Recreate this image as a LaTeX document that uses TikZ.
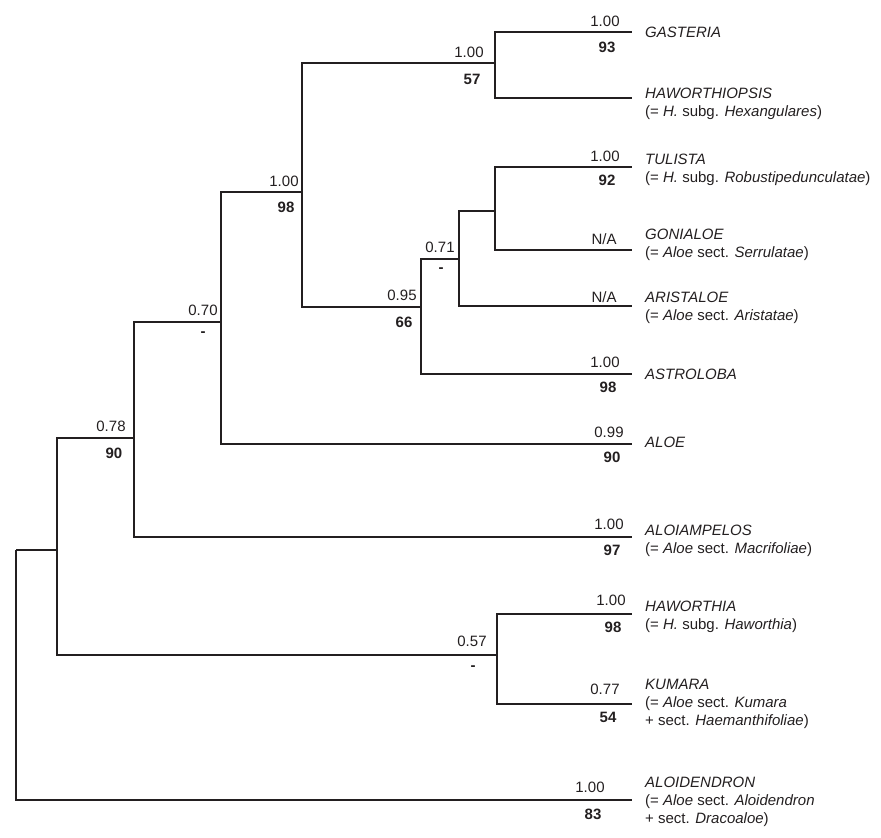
\documentclass[tikz,border=0pt]{standalone}
\usepackage{fontspec}
\setmainfont{Liberation Sans}
\usepackage{xcolor}

\definecolor{ink}{HTML}{231F20}

\begin{document}
\begin{tikzpicture}[x=1pt,y=-1pt,
    branch/.style={draw=ink,line width=1.6pt},
    pp/.style={inner sep=0pt,text=ink,font=\fontsize{15}{18}\selectfont},
    bs/.style={inner sep=0pt,text=ink,font=\fontsize{15}{18}\selectfont\bfseries},
    taxon/.style={anchor=west,inner sep=0pt,align=left,text=ink,font=\fontsize{15}{18}\selectfont}]
                \useasboundingbox (0,0) rectangle (881,838);
                % internal nodes
                \coordinate (root) at (16,550);
                \coordinate (n1) at (57,550);
                \coordinate (n2) at (134,438);
                \coordinate (n3) at (221,322);
                \coordinate (n4) at (302,192);
                \coordinate (n5) at (495,63);
                \coordinate (n6) at (421,307);
                \coordinate (n7) at (459,259);
                \coordinate (n8) at (495,211);
                \coordinate (n9) at (497,655);
                % tips
                \coordinate (gas) at (632,32);
                \coordinate (hop) at (632,98);
                \coordinate (tul) at (632,167);
                \coordinate (gon) at (632,250);
                \coordinate (ari) at (632,306);
                \coordinate (ast) at (632,374);
                \coordinate (aloe) at (632,444);
                \coordinate (amp) at (632,537);
                \coordinate (haw) at (632,614);
                \coordinate (kum) at (632,704);
                \coordinate (den) at (632,800);
                % branches
                \foreach \a/\b in {root/n1,root/den,n1/n2,n1/n9,n2/n3,n2/amp,n3/n4,n3/aloe,
                    n4/n5,n4/n6,n5/gas,n5/hop,n6/n7,n6/ast,n7/n8,n7/ari,n8/tul,n8/gon,n9/haw,n9/kum}
                    \draw[branch] (\a) |- (\b);
                % support values on internal nodes
                \node[pp] (pp-n5) at ([xshift=-26pt,yshift=11pt]n5) {1.00};
                \node[bs] (bs-n5) at ([xshift=-23pt,yshift=-16pt]n5) {57};
                \node[pp] (pp-n4) at ([xshift=-18pt,yshift=11pt]n4) {1.00};
                \node[bs] (bs-n4) at ([xshift=-16pt,yshift=-15pt]n4) {98};
                \node[pp] (pp-n7) at ([xshift=-19pt,yshift=12pt]n7) {0.71};
                \node[bs] (bs-n7) at ([xshift=-18pt,yshift=-11pt]n7) {-};
                \node[pp] (pp-n6) at ([xshift=-19pt,yshift=12pt]n6) {0.95};
                \node[bs] (bs-n6) at ([xshift=-17pt,yshift=-15pt]n6) {66};
                \node[pp] (pp-n3) at ([xshift=-18pt,yshift=12pt]n3) {0.70};
                \node[bs] (bs-n3) at ([xshift=-18pt,yshift=-12pt]n3) {-};
                \node[pp] (pp-n2) at ([xshift=-23pt,yshift=12pt]n2) {0.78};
                \node[bs] (bs-n2) at ([xshift=-20pt,yshift=-15pt]n2) {90};
                \node[pp] (pp-n9) at ([xshift=-25pt,yshift=14pt]n9) {0.57};
                \node[bs] (bs-n9) at ([xshift=-24pt,yshift=-13pt]n9) {-};
                % support values on tips
                \node[pp] (pp-gas) at ([xshift=-27pt,yshift=11pt]gas) {1.00};
                \node[bs] (bs-gas) at ([xshift=-25pt,yshift=-15pt]gas) {93};
                \node[pp] (pp-tul) at ([xshift=-27pt,yshift=11pt]tul) {1.00};
                \node[bs] (bs-tul) at ([xshift=-25pt,yshift=-13pt]tul) {92};
                \node[pp] (pp-gon) at ([xshift=-28pt,yshift=11pt]gon) {N/A};
                \node[pp] (pp-ari) at ([xshift=-28pt,yshift=9pt]ari) {N/A};
                \node[pp] (pp-ast) at ([xshift=-27pt,yshift=12pt]ast) {1.00};
                \node[bs] (bs-ast) at ([xshift=-24pt,yshift=-13pt]ast) {98};
                \node[pp] (pp-aloe) at ([xshift=-23pt,yshift=12pt]aloe) {0.99};
                \node[bs] (bs-aloe) at ([xshift=-20pt,yshift=-13pt]aloe) {90};
                \node[pp] (pp-amp) at ([xshift=-23pt,yshift=13pt]amp) {1.00};
                \node[bs] (bs-amp) at ([xshift=-20pt,yshift=-13pt]amp) {97};
                \node[pp] (pp-haw) at ([xshift=-21pt,yshift=14pt]haw) {1.00};
                \node[bs] (bs-haw) at ([xshift=-19pt,yshift=-13pt]haw) {98};
                \node[pp] (pp-kum) at ([xshift=-27pt,yshift=15pt]kum) {0.77};
                \node[bs] (bs-kum) at ([xshift=-24pt,yshift=-13pt]kum) {54};
                \node[pp] (pp-den) at ([xshift=-42pt,yshift=13pt]den) {1.00};
                \node[bs] (bs-den) at ([xshift=-39pt,yshift=-14pt]den) {83};
                % genus names
                \node[taxon] (t-gas) at ([xshift=13pt]gas) {\textit{GASTERIA}};
                \node[taxon] (t-hop) at ([xshift=13pt,yshift=-6pt]hop) {\textit{HAWORTHIOPSIS}\\(= \textit{H.} subg. \textit{Hexangulares})};
                \node[taxon] (t-tul) at ([xshift=13pt,yshift=-3pt]tul) {\textit{TULISTA}\\(= \textit{H.} subg. \textit{Robustipedunculatae})};
                \node[taxon] (t-gon) at ([xshift=13pt,yshift=5pt]gon) {\textit{GONIALOE}\\(= \textit{Aloe} sect. \textit{Serrulatae})};
                \node[taxon] (t-ari) at ([xshift=13pt,yshift=-2pt]ari) {\textit{ARISTALOE}\\(= \textit{Aloe} sect. \textit{Aristatae})};
                \node[taxon] (t-ast) at ([xshift=13pt]ast) {\textit{ASTROLOBA}};
                \node[taxon] (t-aloe) at ([xshift=13pt,yshift=2pt]aloe) {\textit{ALOE}};
                \node[taxon] (t-amp) at ([xshift=13pt,yshift=-4pt]amp) {\textit{ALOIAMPELOS}\\(= \textit{Aloe} sect. \textit{Macrifoliae})};
                \node[taxon] (t-haw) at ([xshift=13pt,yshift=-3pt]haw) {\textit{HAWORTHIA}\\(= \textit{H.} subg. \textit{Haworthia})};
                \node[taxon] (t-kum) at ([xshift=13pt]kum) {\textit{KUMARA}\\(= \textit{Aloe} sect. \textit{Kumara}\\+ sect. \textit{Haemanthifoliae})};
                \node[taxon] (t-den) at ([xshift=13pt,yshift=-2pt]den) {\textit{ALOIDENDRON}\\(= \textit{Aloe} sect. \textit{Aloidendron}\\+ sect. \textit{Dracoaloe})};
            \end{tikzpicture}
\end{document}
